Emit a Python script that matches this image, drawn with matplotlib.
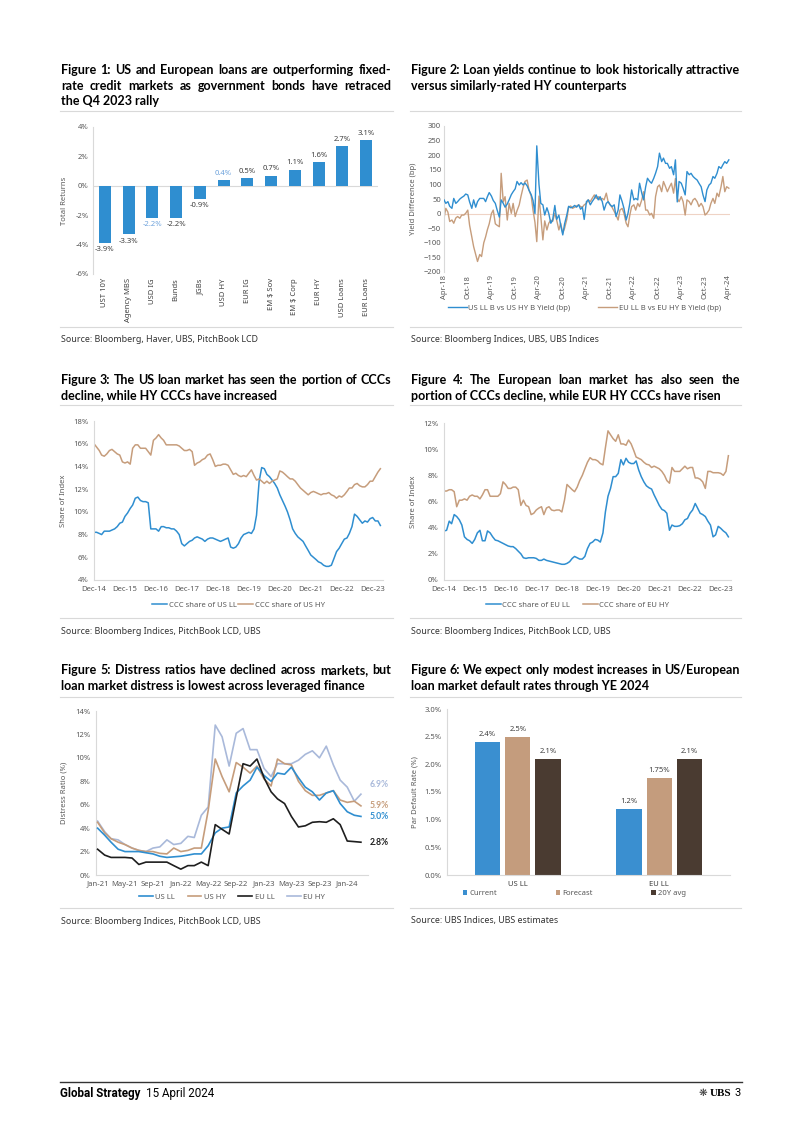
import numpy as np
import pandas as pd
import matplotlib
matplotlib.use("Agg")
import matplotlib.pyplot as plt
import matplotlib.dates as mdates
from matplotlib.ticker import FuncFormatter, MultipleLocator
from matplotlib.lines import Line2D
from matplotlib.patches import Patch

plt.rcParams['font.family'] = ['Noto Sans', 'DejaVu Sans']
plt.rcParams['font.size'] = 5.5

W, H = 802, 1134
BLUE = '#2F8ED0'
TAN = '#C69D7C'
BROWN = '#4B3B30'
EUHY = '#A9B9DA'
BLACK = '#1E1E1E'
GREY = '#595959'
LIGHT = '#D9D9D9'
BOLDFAM = ['Lato', 'DejaVu Sans']

# ---- Figure 1 data
f1_cats = ['UST 10Y', 'Agency MBS', 'USD IG', 'Bunds', 'JGBs', 'USD HY', 'EUR IG',
           'EM $ Sov', 'EM $ Corp', 'EUR HY', 'USD Loans', 'EUR Loans']
f1_vals = [-3.9, -3.3, -2.2, -2.2, -0.9, 0.4, 0.5, 0.7, 1.1, 1.6, 2.7, 3.1]
f1_light = ['USD IG', 'USD HY']

# ---- Figure 2 data (semi-monthly, Apr-18 to Apr-24)
f2_us = [47, 35, 41, 25, 18, 52, 35, 41, 50, 55,
         60, 67, 64, 40, 18, 47, 22, 41, 52, 52,
         52, 41, 58, 72, 60, 45, 35, 12, -12, 47,
         35, 22, 33, 47, 65, 75, 85, 110, 98, 106,
         98, 105, 95, 80, 65, 45, 0, 232, 100, 35,
         30, -5, 20, 1, -33, -22, 28, -20, -5, -40,
         -73, -35, -5, 25, 20, 22, 28, 22, 30, 15,
         22, -20, 41, 47, 30, 41, 52, 64, 47, 58,
         41, 12, 35, 41, 30, 24, 30, -10, 12, 64,
         41, 18, -22, 1, 35, 81, 47, 52, 47, 104,
         70, 47, 92, 121, 110, 104, 121, 138, 161, 207,
         178, 190, 172, 172, 155, 161, 133, 184, 40, 110,
         104, 87, 64, 144, 133, 138, 127, 121, 115, 104,
         92, 64, 41, 81, 98, 104, 127, 121, 138, 161,
         155, 167, 178, 172, 184]
f2_eu = [-16, 18, 5, -27, -22, -33, -15, -10, -16, -5,
         -5, 1, 12, -40, -79, -113, -140, -164, -140, -147,
         -100, -80, -55, -35, 0, 12, -35, -40, -45, 138,
         40, 58, -22, 35, 1, 35, -10, 10, 30, 60,
         90, 110, 115, 81, 60, 12, -30, -96, 60, -10,
         -90, -25, -56, -33, -22, -27, 1, -22, -56, -33,
         -67, -50, -20, 22, 26, 18, 22, 26, 30, 24,
         22, 30, 35, 47, 41, 52, 64, 52, 58, 47,
         52, 47, 70, 41, 30, 22, 7, -5, -22, 12,
         18, 1, -33, -45, -5, 24, 30, 12, 35, 24,
         47, 75, 12, 12, -5, 1, -16, 58, 92, 98,
         75, 110, 92, 75, 92, 104, 70, 120, 52, 41,
         58, 41, -5, 47, 41, 30, 47, 52, 41, 24,
         35, 24, -5, 1, 12, 35, 52, 35, 70, 58,
         92, 127, 75, 92, 87]
f2_dates = pd.date_range('2018-04-01', periods=len(f2_us), freq='SMS')

# ---- Figure 3 data (monthly, Dec-14 to Mar-24)
f3_ll = [8.2, 8.2, 8.1, 8.0, 8.3, 8.3, 8.3, 8.4, 8.5, 8.7,
         9.0, 9.1, 9.6, 9.9, 10.3, 10.6, 11.2, 11.3, 11.0, 10.9,
         10.9, 10.8, 8.5, 8.5, 8.5, 8.3, 8.7, 8.7, 8.6, 8.6,
         8.5, 8.5, 8.3, 8.0, 7.2, 7.0, 7.2, 7.4, 7.5, 7.7,
         7.8, 7.7, 7.6, 7.4, 7.6, 7.7, 7.7, 7.6, 7.5, 7.4,
         7.5, 7.6, 7.7, 6.9, 6.8, 6.9, 7.2, 7.7, 8.0, 8.1,
         8.2, 8.1, 8.5, 9.7, 12.7, 13.9, 13.8, 13.3, 13.1, 12.8,
         12.5, 12.1, 11.5, 11.0, 10.5, 10.0, 9.3, 8.5, 8.1, 7.8,
         7.6, 7.4, 7.0, 6.6, 6.2, 6.0, 5.8, 5.6, 5.5, 5.3,
         5.2, 5.2, 5.3, 5.9, 6.5, 6.8, 7.2, 7.6, 7.7, 8.1,
         8.7, 9.8, 9.6, 9.3, 9.0, 9.2, 9.1, 9.4, 9.5, 9.2,
         9.2, 8.8]
f3_hy = [16.0, 15.7, 15.4, 15.0, 14.9, 15.1, 15.4, 15.5, 15.3, 15.1,
         15.0, 14.4, 14.3, 14.4, 14.2, 15.6, 15.9, 15.9, 15.6, 15.6,
         15.6, 15.3, 15.0, 16.3, 16.5, 16.8, 16.5, 16.3, 15.9, 15.9,
         15.9, 15.9, 15.9, 15.8, 15.6, 15.4, 15.4, 15.5, 15.3, 14.1,
         14.3, 14.4, 14.6, 14.7, 15.0, 15.1, 14.6, 14.0, 14.1, 14.1,
         14.2, 14.2, 14.1, 13.7, 13.3, 13.4, 13.2, 13.1, 13.2, 13.1,
         13.4, 13.7, 13.2, 12.8, 12.9, 12.7, 12.5, 12.7, 12.5, 12.7,
         12.8, 12.9, 13.6, 13.5, 13.3, 13.1, 12.9, 12.9, 12.7, 12.4,
         12.1, 11.9, 11.7, 11.5, 11.7, 11.8, 11.7, 11.6, 11.5, 11.6,
         11.6, 11.7, 11.5, 11.4, 11.2, 11.4, 11.3, 11.5, 11.8, 12.1,
         12.1, 12.4, 12.5, 12.3, 12.2, 12.2, 12.4, 12.7, 12.7, 13.1,
         13.5, 13.8]
f3_dates = pd.date_range('2014-12-01', periods=len(f3_ll), freq='MS')

# ---- Figure 4 data (monthly, Dec-14 to Mar-24)
f4_ll = [3.75, 3.8, 4.5, 4.3, 5.0, 4.85, 4.6, 4.2, 3.3, 3.1,
         3.0, 2.8, 3.1, 3.6, 3.8, 3.0, 3.0, 3.75, 3.6, 3.3,
         3.05, 3.0, 2.9, 2.8, 2.7, 2.6, 2.55, 2.55, 2.4, 2.2,
         2.0, 1.7, 1.65, 1.7, 1.7, 1.7, 1.65, 1.5, 1.5, 1.6,
         1.5, 1.45, 1.4, 1.35, 1.3, 1.25, 1.2, 1.2, 1.27, 1.4,
         1.65, 1.8, 1.7, 1.6, 1.6, 1.8, 2.4, 2.8, 2.9, 3.1,
         3.05, 2.9, 3.6, 5.2, 6.4, 7.0, 7.9, 7.9, 8.15, 9.2,
         8.8, 9.3, 9.0, 8.9, 8.9, 9.1, 8.4, 7.9, 7.5, 7.2,
         7.05, 6.95, 6.5, 6.1, 5.7, 5.4, 5.3, 5.1, 3.8, 4.2,
         4.1, 4.1, 4.15, 4.3, 4.6, 4.7, 5.1, 5.35, 5.85, 5.5,
         5.1, 5.0, 4.85, 4.5, 4.2, 3.3, 3.45, 4.1, 3.95, 3.75,
         3.6, 3.3]
f4_hy = [6.8, 6.8, 6.9, 6.9, 6.75, 5.6, 6.1, 6.1, 6.2, 6.1,
         6.4, 6.5, 6.4, 6.4, 6.2, 6.5, 6.9, 6.9, 6.4, 6.4,
         6.4, 6.4, 6.6, 7.5, 7.3, 7.0, 7.0, 7.1, 7.1, 6.9,
         5.7, 6.1, 5.7, 5.6, 5.0, 5.1, 5.35, 5.5, 5.6, 5.0,
         5.5, 5.6, 5.35, 5.3, 5.35, 5.35, 5.2, 6.1, 7.3, 7.1,
         6.9, 6.75, 7.1, 7.6, 8.0, 8.5, 9.0, 9.35, 9.2, 9.2,
         9.1, 8.9, 8.8, 10.1, 11.4, 11.1, 10.8, 10.6, 11.1, 10.4,
         10.4, 10.3, 10.7, 10.4, 9.9, 9.4, 9.3, 9.2, 9.0, 8.85,
         8.8, 8.6, 8.7, 8.6, 8.5, 8.3, 8.0, 7.6, 7.4, 8.6,
         8.3, 8.3, 8.3, 8.5, 8.7, 8.5, 8.6, 8.6, 7.8, 7.8,
         7.7, 7.5, 7.0, 8.3, 8.3, 8.2, 8.2, 8.2, 8.15, 8.0,
         8.3, 9.5]
f4_dates = pd.date_range('2014-12-01', periods=len(f4_ll), freq='MS')

# ---- Figure 5 data (monthly, Jan-21 to Mar-24)
f5_us_ll = [4.0, 3.4, 2.8, 2.2, 2.0, 2.0, 2.0, 1.9, 1.8, 1.6,
            1.5, 1.55, 1.6, 1.7, 1.8, 1.8, 2.5, 3.6, 4.0, 4.1,
            7.0, 7.6, 8.1, 9.2, 8.5, 8.0, 8.7, 8.6, 9.2, 8.3,
            7.5, 7.1, 6.4, 7.0, 7.2, 6.1, 5.4, 5.1, 5.0]
f5_us_hy = [4.5, 3.6, 3.1, 2.8, 2.6, 2.3, 2.1, 2.0, 2.0, 1.85,
            1.8, 2.3, 2.0, 2.1, 2.3, 2.3, 5.5, 9.9, 8.4, 7.1,
            9.6, 9.2, 8.7, 9.3, 8.2, 7.6, 9.9, 9.5, 9.4, 8.0,
            7.2, 6.8, 6.8, 7.0, 7.2, 6.4, 6.2, 6.3, 5.9]
f5_eu_ll = [2.2, 1.7, 1.5, 1.5, 1.5, 1.45, 0.9, 1.1, 1.1, 1.1,
            1.1, 0.8, 0.5, 0.8, 0.8, 1.1, 0.8, 4.3, 3.9, 3.5,
            6.6, 9.5, 9.3, 9.9, 8.3, 7.1, 6.5, 6.1, 5.0, 4.1,
            4.2, 4.5, 4.55, 4.5, 4.8, 4.3, 2.9, 2.85, 2.8]
f5_eu_hy = [4.6, 3.7, 3.1, 3.0, 2.6, 2.3, 2.1, 2.0, 2.3, 2.4,
            3.0, 2.6, 2.7, 3.3, 3.2, 5.1, 5.8, 12.8, 11.8, 9.3,
            12.1, 12.5, 10.7, 10.7, 9.1, 8.4, 9.5, 9.5, 9.5, 9.8,
            10.3, 10.6, 10.0, 11.0, 9.4, 8.1, 7.5, 6.3, 6.9]
f5_dates = pd.date_range('2021-01-01', periods=len(f5_us_ll), freq='MS')
f5_end_labels = ['5.0%', '5.9%', '2.8%', '6.9%']

# ---- Figure 6 data
f6_cats = ['US LL', 'EU LL']
f6_series = ['Current', 'Forecast', '20Y avg']
f6_vals = [[2.4, 1.2], [2.5, 1.75], [2.1, 2.1]]
f6_labels = [['2.4%', '1.2%'], ['2.5%', '1.75%'], ['2.1%', '2.1%']]

fig = plt.figure(figsize=(W / 100, H / 100), dpi=100)
fig.patch.set_facecolor('white')
renderer = fig.canvas.get_renderer()

TKW = dict(fontsize=9.0, fontweight='bold', family=BOLDFAM, va='center', color='black')


def px_axes(l, t, r, b):
    return fig.add_axes([l / W, 1 - b / H, (r - l) / W, (b - t) / H])


def hline(x0, x1, y, color=LIGHT, lw=0.8):
    fig.add_artist(Line2D([x0 / W, x1 / W], [1 - y / H, 1 - y / H], color=color, lw=lw))


def title(lines, x0, x1, y0, step=15.5):
    for i, line in enumerate(lines):
        y = 1 - (y0 + i * step) / H
        if i == len(lines) - 1:
            fig.text(x0 / W, y, line, **TKW)
            continue
        words = line.split()
        ts = [fig.text(0, y, w, **TKW) for w in words]
        ws = [t.get_window_extent(renderer).width for t in ts]
        gap = (x1 - x0 - sum(ws)) / (len(words) - 1)
        x = x0
        for t, w in zip(ts, ws):
            t.set_x(x / W)
            x += w + gap


def source(x, y, s):
    fig.text(x / W, 1 - y / H, s, fontsize=6.4, color='#333333', va='center')


def style(ax, bottom=True, pad=3):
    for s in ['top', 'right']:
        ax.spines[s].set_visible(False)
    ax.spines['left'].set_color(LIGHT)
    ax.spines['left'].set_linewidth(0.8)
    if bottom:
        ax.spines['bottom'].set_color(LIGHT)
        ax.spines['bottom'].set_linewidth(0.8)
    else:
        ax.spines['bottom'].set_visible(False)
    ax.tick_params(length=0, labelsize=5.5, labelcolor=GREY, pad=pad)
    ax.set_facecolor('none')


pct0 = FuncFormatter(lambda v, p: f'{v:.0f}%')

# separators and titles
for x0, x1 in [(60, 393), (410, 741)]:
    for y in [111, 327, 405, 618, 697, 908]:
        hline(x0, x1, y)

title(['Figure 1: US and European loans are outperforming fixed-',
       'rate credit markets as government bonds have retraced',
       'the Q4 2023 rally'], 61, 391, 70)
title(['Figure 2: Loan yields continue to look historically attractive',
       'versus similarly-rated HY counterparts'], 411, 740, 70)
title(['Figure 3: The US loan market has seen the portion of CCCs',
       'decline, while HY CCCs have increased'], 61, 391, 380)
title(['Figure 4: The European loan market has also seen the',
       'portion of CCCs decline, while EUR HY CCCs have risen'], 411, 740, 380)
title(['Figure 5: Distress ratios have declined across markets, but',
       'loan market distress is lowest across leveraged finance'], 61, 391, 670)
title(['Figure 6: We expect only modest increases in US/European',
       'loan market default rates through YE 2024'], 411, 740, 670)

source(61, 339, 'Source: Bloomberg, Haver, UBS, PitchBook LCD')
source(411, 339, 'Source: Bloomberg Indices, UBS, UBS Indices')
source(61, 631, 'Source: Bloomberg Indices, PitchBook LCD, UBS')
source(411, 631, 'Source: Bloomberg Indices, PitchBook LCD, UBS')
source(61, 921, 'Source: Bloomberg Indices, PitchBook LCD, UBS')
source(411, 921, 'Source: UBS Indices, UBS estimates')

# ---- Figure 1
ax1 = px_axes(93, 127, 378, 274)
style(ax1, bottom=False, pad=3)
x1 = np.arange(len(f1_cats))
ax1.bar(x1, f1_vals, width=0.5, color=BLUE, zorder=2)
ax1.axhline(0, color=LIGHT, lw=0.8, zorder=1)
ax1.set_xlim(-0.5, len(f1_cats) - 0.5)
ax1.set_ylim(-6, 4)
ax1.yaxis.set_major_locator(MultipleLocator(2))
ax1.yaxis.set_major_formatter(pct0)
ax1.set_xticks(x1)
ax1.set_xticklabels(f1_cats, rotation=90, fontsize=5.5, color='#404040')
for xi, v, c in zip(x1, f1_vals, f1_cats):
    col = '#6FA3DC' if c in f1_light else '#404040'
    off = 0.22 if v > 0 else -0.22
    ax1.text(xi, v + off, f'{v:.1f}%', ha='center', va='bottom' if v > 0 else 'top',
             fontsize=5.5, color=col)
ax1.set_ylabel('Total Returns', fontsize=5.5, color=GREY)
ax1.yaxis.set_label_coords(-0.088, 0.5)

# ---- Figure 2
ax2 = px_axes(444, 126, 730, 272)
style(ax2, bottom=False, pad=2)
ax2.axhline(0, color='#EFD3C5', lw=0.8, zorder=1)
ax2.plot(f2_dates, f2_us, color=BLUE, lw=1.0, label='US LL B vs US HY B Yield (bp)', zorder=3)
ax2.plot(f2_dates, f2_eu, color=TAN, lw=1.0, label='EU LL B vs EU HY B Yield (bp)', zorder=2)
ax2.set_ylim(-200, 300)
ax2.yaxis.set_major_locator(MultipleLocator(50))
ax2.set_xlim(pd.Timestamp('2018-04-01'), pd.Timestamp('2024-04-10'))
ax2.xaxis.set_major_locator(mdates.MonthLocator(bymonth=[4, 10]))
ax2.xaxis.set_major_formatter(mdates.DateFormatter('%b-%y'))
plt.setp(ax2.get_xticklabels(), rotation=90)
ax2.set_ylabel('Yield Difference (bp)', fontsize=5.5, color=GREY)
ax2.yaxis.set_label_coords(-0.095, 0.5)
ax2.legend(loc='center', bbox_to_anchor=(0.49, -0.247), ncol=2, frameon=False,
           fontsize=5.5, handlelength=2.5, columnspacing=3.6, handletextpad=0.2,
           labelcolor=GREY)

# ---- Figure 3
ax3 = px_axes(94, 421, 383, 580)
style(ax3, pad=4)
ax3.plot(f3_dates, f3_ll, color=BLUE, lw=1.1, label='CCC share of US LL')
ax3.plot(f3_dates, f3_hy, color=TAN, lw=1.1, label='CCC share of US HY')
ax3.set_ylim(4, 18)
ax3.yaxis.set_major_locator(MultipleLocator(2))
ax3.yaxis.set_major_formatter(pct0)
ax3.set_xlim(pd.Timestamp('2014-12-01'), pd.Timestamp('2024-04-01'))
ax3.xaxis.set_major_locator(mdates.MonthLocator(bymonth=[12]))
ax3.xaxis.set_major_formatter(mdates.DateFormatter('%b-%y'))
ax3.set_ylabel('Share of Index', fontsize=5.5, color=GREY)
ax3.yaxis.set_label_coords(-0.093, 0.5)
ax3.legend(loc='center', bbox_to_anchor=(0.5, -0.157), ncol=2, frameon=False,
           fontsize=5.5, handlelength=2.0, columnspacing=0.2, handletextpad=0.2,
           labelcolor=GREY)

# ---- Figure 4
ax4 = px_axes(444, 423, 731, 580)
style(ax4, pad=4)
ax4.plot(f4_dates, f4_ll, color=BLUE, lw=1.1, label='CCC share of EU LL')
ax4.plot(f4_dates, f4_hy, color=TAN, lw=1.1, label='CCC share of EU HY')
ax4.set_ylim(0, 12)
ax4.yaxis.set_major_locator(MultipleLocator(2))
ax4.yaxis.set_major_formatter(pct0)
ax4.set_xlim(pd.Timestamp('2014-12-01'), pd.Timestamp('2024-04-01'))
ax4.xaxis.set_major_locator(mdates.MonthLocator(bymonth=[12]))
ax4.xaxis.set_major_formatter(mdates.DateFormatter('%b-%y'))
ax4.set_ylabel('Share of Index', fontsize=5.5, color=GREY)
ax4.yaxis.set_label_coords(-0.094, 0.5)
ax4.legend(loc='center', bbox_to_anchor=(0.465, -0.16), ncol=2, frameon=False,
           fontsize=5.5, handlelength=2.0, columnspacing=1.6, handletextpad=0.2,
           labelcolor=GREY)

# ---- Figure 5
ax5 = px_axes(96, 711, 368, 875)
style(ax5, pad=4)
series5 = [(f5_us_ll, BLUE, 'US LL'), (f5_us_hy, TAN, 'US HY'),
           (f5_eu_ll, BLACK, 'EU LL'), (f5_eu_hy, EUHY, 'EU HY')]
z = [4, 3, 5, 2]
for (vals, col, lab), zz in zip(series5, z):
    ax5.plot(f5_dates, vals, color=col, lw=1.2, label=lab, zorder=zz)
label_dy = [0, 0, 0, 7]
for (vals, col, lab), txt, dy in zip(series5, f5_end_labels, label_dy):
    ax5.annotate(txt, xy=(f5_dates[-1], vals[-1]), xytext=(6, dy), textcoords='offset points',
                 va='center', ha='left', fontsize=6.2, color=col, fontweight='bold',
                 family=BOLDFAM, annotation_clip=False)
ax5.set_ylim(0, 14)
ax5.yaxis.set_major_locator(MultipleLocator(2))
ax5.yaxis.set_major_formatter(pct0)
ax5.set_xlim(pd.Timestamp('2020-12-25'), pd.Timestamp('2024-04-01'))
ax5.xaxis.set_major_locator(mdates.MonthLocator(bymonth=[1, 5, 9]))
ax5.xaxis.set_major_formatter(mdates.DateFormatter('%b-%y'))
ax5.set_ylabel('Distress Ratio (%)', fontsize=5.5, color=GREY)
ax5.yaxis.set_label_coords(-0.103, 0.5)
ax5.legend(loc='center', bbox_to_anchor=(0.5, -0.134), ncol=4, frameon=False,
           fontsize=5.5, handlelength=1.8, columnspacing=1.7, handletextpad=0.3,
           labelcolor=GREY)

# ---- Figure 6
ax6 = px_axes(447, 709, 730, 875)
style(ax6, pad=4)
cols6 = ['#3A8FD0', '#C49C7D', '#4A3B31']
offs = [-0.215, 0.0, 0.215]
x6 = np.arange(len(f6_cats))
for vals, labs, col, off, name in zip(f6_vals, f6_labels, cols6, offs, f6_series):
    ax6.bar(x6 + off, vals, width=0.18, color=col, label=name)
    for xi, v, t in zip(x6, vals, labs):
        ax6.text(xi + off, v + 0.07, t, ha='center', va='bottom', fontsize=5.5, color='#404040')
ax6.set_xlim(-0.5, 1.5)
ax6.set_ylim(0, 3)
ax6.yaxis.set_major_locator(MultipleLocator(0.5))
ax6.yaxis.set_major_formatter(FuncFormatter(lambda v, p: f'{v:.1f}%'))
ax6.set_xticks(x6)
ax6.set_xticklabels(f6_cats, color='#404040')
ax6.set_ylabel('Par Default Rate (%)', fontsize=5.5, color=GREY)
ax6.yaxis.set_label_coords(-0.102, 0.5)
handles6 = [Patch(facecolor=c, edgecolor='none') for c in cols6]
ax6.legend(handles6, f6_series, loc='center', bbox_to_anchor=(0.45, -0.114), ncol=3,
           frameon=False, fontsize=5.5, handlelength=0.6, handleheight=0.6,
           handletextpad=0.3, columnspacing=7.6, labelcolor=GREY)

# ---- footer
hline(60, 742, 1082, color='#333333', lw=1.0)
t1 = fig.text(60 / W, 1 - 1093 / H, 'Global Strategy', fontsize=8.4, fontweight='bold',
              family=['Roboto', 'DejaVu Sans'], va='center')
w1 = t1.get_window_extent(renderer).width
fig.text((60 + w1 + 5) / W, 1 - 1093 / H, '15 April 2024', fontsize=8.4,
         family=['Roboto', 'DejaVu Sans'], va='center')
fig.text(741 / W, 1 - 1093 / H, '3', fontsize=8, family=['Roboto', 'DejaVu Sans'],
         va='center', ha='right')
t_ubs = fig.text(731 / W, 1 - 1093 / H, 'UBS', fontsize=8, fontweight='bold',
                 family=['Liberation Serif', 'DejaVu Serif'], va='center', ha='right')
w_ubs = t_ubs.get_window_extent(renderer).width
fig.text((731 - w_ubs - 2) / W, 1 - 1093 / H, '\u274b', fontsize=7.5, family=['DejaVu Sans'],
         va='center', ha='right', color='#333333')

fig.savefig('out.png', dpi=100, facecolor='white')
